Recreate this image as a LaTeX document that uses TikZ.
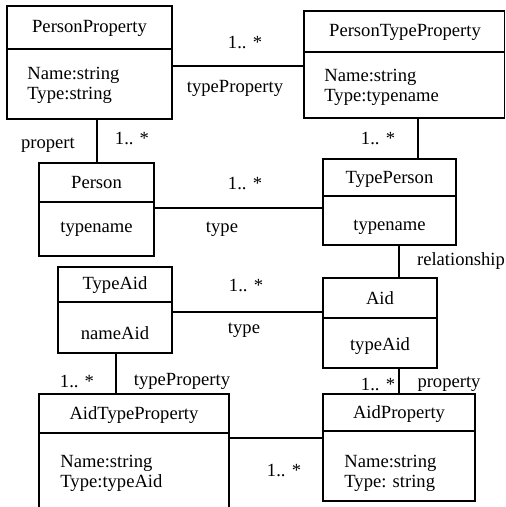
\documentclass[tikz,border=0pt]{standalone}
\usepackage{fontspec}
\setmainfont{Liberation Serif}
\usetikzlibrary{fit}
\begin{document}
\begin{tikzpicture}[x=0.5pt,y=-0.5pt,line join=miter,font=\fontsize{9.3}{10}\selectfont]
	\tikzset{classbox/.style={draw,line width=0.9pt,inner sep=0pt},
		divider/.style={line width=0.9pt},
		assoc/.style={line width=0.7pt},
		attr/.style={anchor=base west,align=left,inner sep=0pt},
		lbl/.style={inner sep=0pt}}
	\clip (0,0) rectangle (506,507);
	% classes
	\node[classbox,fit={(7,6)(172,119)}] (pp) {};
	\draw[divider] (pp.west |- 0,49) -- (pp.east |- 0,49);
	\node (pptitle) at (89.5,28) {PersonProperty};
	\node[attr] (ppattr) at (27,100) {Name:string\\Type:string};
	\node[classbox,fit={(304,11)(504.5,118)}] (ptp) {};
	\draw[divider] (ptp.west |- 0,52) -- (ptp.east |- 0,52);
	\node (ptptitle) at (405,32) {PersonTypeProperty};
	\node[attr] (ptpattr) at (324,102) {Name:string\\Type:typename};
	\node[classbox,fit={(39,163)(154,256)}] (person) {};
	\draw[divider] (person.west |- 0,202) -- (person.east |- 0,202);
	\node (persontitle) at (96.5,183) {Person};
	\node (personattr) at (96.5,229) {typename};
	\node[classbox,fit={(323,159)(456,245)}] (tp) {};
	\draw[divider] (tp.west |- 0,196) -- (tp.east |- 0,196);
	\node (tptitle) at (389.5,179) {TypePerson};
	\node (tpattr) at (389.5,227) {typename};
	\node[classbox,fit={(58,267)(172,353)}] (ta) {};
	\draw[divider] (ta.west |- 0,302) -- (ta.east |- 0,302);
	\node (tatitle) at (115,285) {TypeAid};
	\node (taattr) at (115,333) {nameAid};
	\node[classbox,fit={(323,278)(437,368)}] (aid) {};
	\draw[divider] (aid.west |- 0,318) -- (aid.east |- 0,318);
	\node (aidtitle) at (380,298) {Aid};
	\node (aidattr) at (380,346) {typeAid};
	\node[classbox,fit={(39,394)(229,520)}] (atp) {};
	\draw[divider] (atp.west |- 0,433) -- (atp.east |- 0,433);
	\node (atptitle) at (134,415) {AidTypeProperty};
	\node[attr] (atpattr) at (60,487) {Name:string\\Type:typeAid};
	\node[classbox,fit={(323,394)(475,501)}] (ap) {};
	\draw[divider] (ap.west |- 0,431) -- (ap.east |- 0,431);
	\node (aptitle) at (399,414) {AidProperty};
	\node[attr] (apattr) at (344,487) {Name:string\\Type: string};
	% associations
	\draw[assoc] (pp.east |- 0,66) -- (ptp.west |- 0,66);
	\draw[assoc] (pp.south -| 97,0) -- (person.north -| 97,0);
	\draw[assoc] (ptp.south -| 418,0) -- (tp.north -| 418,0);
	\draw[assoc] (person.east |- 0,208) -- (tp.west |- 0,208);
	\draw[assoc] (tp.south -| 399,0) -- (aid.north -| 399,0);
	\draw[assoc] (ta.east |- 0,312) -- (aid.west |- 0,312);
	\draw[assoc] (ta.south -| 116,0) -- (atp.north -| 116,0);
	\draw[assoc] (aid.south -| 399,0) -- (ap.north -| 399,0);
	\draw[assoc] (atp.east |- 0,438) -- (ap.west |- 0,438);
	% labels
	\node[lbl] (m1) at (245,42) {1.. *};
	\node[lbl] (r1) at (235,88) {typeProperty};
	\node[lbl] (r2) at (48,145) {propert};
	\node[lbl] (m2) at (132,138) {1.. *};
	\node[lbl] (m3) at (378,138) {1.. *};
	\node[lbl] (m4) at (245,183) {1.. *};
	\node[lbl] (r3) at (222,229) {type};
	\node[lbl] (r4) at (461,261) {relationship};
	\node[lbl] (m5) at (246,285) {1.. *};
	\node[lbl] (r5) at (244,330) {type};
	\node[lbl] (m6) at (77,381) {1.. *};
	\node[lbl] (r6) at (182,381) {typeProperty};
	\node[lbl] (m7) at (378,384) {1.. *};
	\node[lbl] (r7) at (449,384) {property};
	\node[lbl] (m8) at (284,470) {1.. *};
\end{tikzpicture}
\end{document}
